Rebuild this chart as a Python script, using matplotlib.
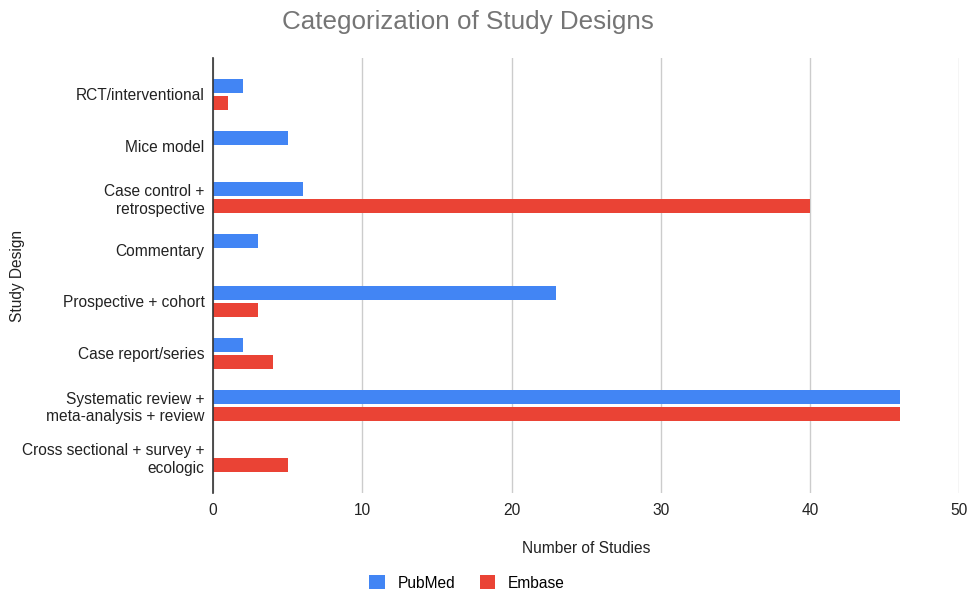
import numpy as np
import matplotlib.pyplot as plt

plt.rcParams['font.family'] = ['Liberation Sans', 'DejaVu Sans']

# data
categories = ["RCT/interventional", "Mice model", "Case control +\nretrospective",
              "Commentary", "Prospective + cohort", "Case report/series",
              "Systematic review +\nmeta-analysis + review",
              "Cross sectional + survey +\necologic"]
pubmed = [2, 5, 6, 3, 23, 2, 46, 0]
embase = [1, 0, 40, 0, 3, 4, 46, 5]

fig = plt.figure(figsize=(9.77, 5.92), dpi=100)
ax = fig.add_axes([0.218, 0.167, 0.764, 0.735])

y = np.arange(len(categories))
h = 0.27
off = 0.165
ax.barh(y - off, pubmed, height=h, color='#4285F4', label='PubMed')
ax.barh(y + off, embase, height=h, color='#EA4335', label='Embase')

ax.set_ylim(len(categories) - 0.3, -0.7)
ax.set_xlim(0, 50)
ax.set_xticks(range(0, 51, 10))
ax.set_yticks(y)
ax.set_yticklabels(categories, fontsize=11.2, color='#222222')
ax.tick_params(axis='x', labelsize=11.2, colors='#222222', length=0, pad=7)
ax.tick_params(axis='y', length=0, pad=6)

ax.grid(axis='x', color='#cccccc', linewidth=1)
ax.set_axisbelow(True)
for s in ['top', 'right', 'bottom']:
    ax.spines[s].set_visible(False)
ax.spines['left'].set_color('#333333')
ax.spines['left'].set_linewidth(1.2)

ax.set_xlabel('Number of Studies', fontsize=11.2, color='#222222', labelpad=17)
ax.set_ylabel('Study Design', fontsize=11.2, color='#222222')
ax.yaxis.set_label_coords(-0.252, 0.5)
fig.text(0.479, 0.962, 'Categorization of Study Designs', fontsize=18.7,
         color='#757575', ha='center', va='center')

fig.legend(loc='center', bbox_to_anchor=(0.478, 0.015), ncol=2, frameon=False,
           fontsize=11.2, handlelength=1.0, handleheight=1.0, columnspacing=1.6)

fig.savefig('out.png', dpi=100)
